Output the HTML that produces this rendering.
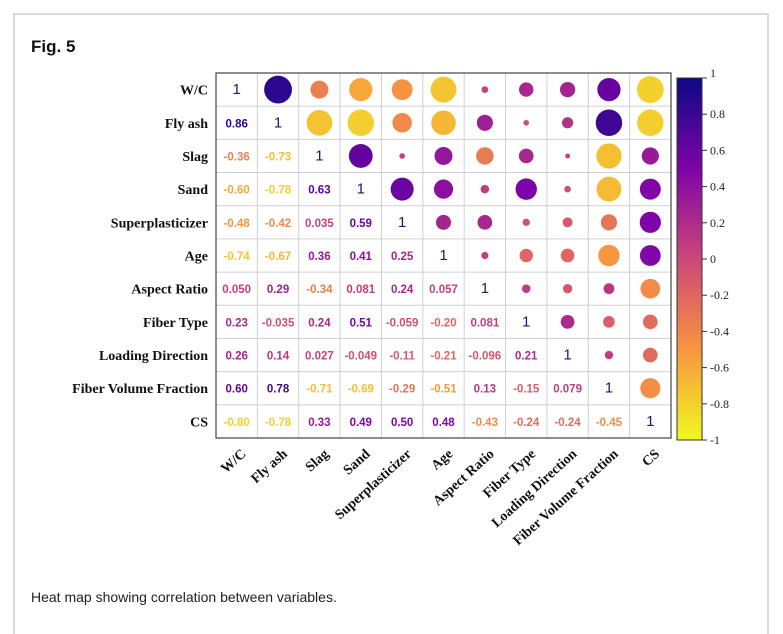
<!DOCTYPE html>
<html><head><meta charset="utf-8"><style>
html,body{margin:0;padding:0;background:#fff;width:783px;height:634px;overflow:hidden;}
body{position:relative;font-family:"Liberation Sans",sans-serif;}
#frame{position:absolute;left:13px;top:13px;width:756px;height:621px;border:2px solid #d9d9d9;border-bottom:none;box-sizing:border-box;}
#title{position:absolute;left:31px;top:37px;font-weight:bold;font-size:17px;color:#111;}
#caption{position:absolute;left:31px;top:589px;font-size:14px;color:#222;}
svg{position:absolute;left:0;top:0;}
</style></head><body>
<div id="frame"></div>
<div id="title">Fig. 5</div>
<svg id="chart" width="783" height="634"></svg>
<div id="caption">Heat map showing correlation between variables.</div>
<script>
const variables=["W/C","Fly ash","Slag","Sand","Superplasticizer","Age","Aspect Ratio","Fiber Type","Loading Direction","Fiber Volume Fraction","CS"];
const lowerValues=[
[],
[0.86],
[-0.36,-0.73],
[-0.60,-0.78,0.63],
[-0.48,-0.42,0.035,0.59],
[-0.74,-0.67,0.36,0.41,0.25],
[0.050,0.29,-0.34,0.081,0.24,0.057],
[0.23,-0.035,0.24,0.51,-0.059,-0.20,0.081],
[0.26,0.14,0.027,-0.049,-0.11,-0.21,-0.096,0.21],
[0.60,0.78,-0.71,-0.69,-0.29,-0.51,0.13,-0.15,0.079],
[-0.80,-0.78,0.33,0.49,0.50,0.48,-0.43,-0.24,-0.24,-0.45]
];
const lowerLabels=[
[],
["0.86"],
["-0.36","-0.73"],
["-0.60","-0.78","0.63"],
["-0.48","-0.42","0.035","0.59"],
["-0.74","-0.67","0.36","0.41","0.25"],
["0.050","0.29","-0.34","0.081","0.24","0.057"],
["0.23","-0.035","0.24","0.51","-0.059","-0.20","0.081"],
["0.26","0.14","0.027","-0.049","-0.11","-0.21","-0.096","0.21"],
["0.60","0.78","-0.71","-0.69","-0.29","-0.51","0.13","-0.15","0.079"],
["-0.80","-0.78","0.33","0.49","0.50","0.48","-0.43","-0.24","-0.24","-0.45"]
];
const colorbarTicks=[1,0.8,0.6,0.4,0.2,0,-0.2,-0.4,-0.6,-0.8,-1];
const colorbarTickLabels=["1","0.8","0.6","0.4","0.2","0","-0.2","-0.4","-0.6","-0.8","-1"];

const NS="http://www.w3.org/2000/svg";
const svg=document.getElementById('chart');
const gx0=216,gx1=671,gy0=73,gy1=438;
const n=variables.length;
const cw=(gx1-gx0)/n,ch=(gy1-gy0)/n;
const xC=i=>gx0+cw*(i+0.5);
const yC=i=>gy0+ch*(i+0.5);
const stops=[[13,8,135],[126,3,168],[204,71,120],[248,149,64],[240,249,33]];
function color(r){let t=(1-r)/2;t=Math.max(0,Math.min(1,t));const s=t*4;const k=Math.min(3,Math.floor(s));const f=s-k;const a=stops[k],b=stops[k+1];
return `rgb(${Math.round(a[0]+(b[0]-a[0])*f)},${Math.round(a[1]+(b[1]-a[1])*f)},${Math.round(a[2]+(b[2]-a[2])*f)})`;}
function mk(tag,attrs){const e=document.createElementNS(NS,tag);for(const k in attrs)e.setAttribute(k,attrs[k]);svg.appendChild(e);return e;}
function val(i,j){if(i===j)return 1;return i>j?lowerValues[i][j]:lowerValues[j][i];}

for(let k=0;k<=n;k++){
  const l1=mk('line',{x1:gx0+cw*k,x2:gx0+cw*k,y1:gy0,y2:gy1,stroke:'#d0d0d0','stroke-width':1});
  
  
  const l2=mk('line',{x1:gx0,x2:gx1,y1:gy0+ch*k,y2:gy0+ch*k,stroke:'#d0d0d0','stroke-width':1});
  
  
}
const border=mk('rect',{x:gx0,y:gy0,width:gx1-gx0,height:gy1-gy0,fill:'none',stroke:'#444','stroke-width':1.2});



for(let i=0;i<n;i++){
  for(let j=0;j<n;j++){
    const r=val(i,j);
    if(j<=i){
      const txt=i===j?"1":lowerLabels[i][j];
      const t=mk('text',{x:xC(j),y:yC(i)+4.5,'text-anchor':'middle','font-size':i===j?15:11.5,'font-weight':i===j?'normal':'bold','font-family':'Liberation Sans, sans-serif',fill:i===j?'#1a1a6e':color(r)});
      t.textContent=txt;
      
      
    } else {
      const c=mk('circle',{cx:xC(j),cy:yC(i),r:15*Math.sqrt(Math.abs(r)),fill:color(r)});
      
      
    }
  }
  const yl=mk('text',{x:gx0-8,y:yC(i)+5,'text-anchor':'end','font-size':14,'font-weight':'bold','font-family':'Liberation Serif, serif',fill:'#111'});
  yl.textContent=variables[i];
  
  
  const xl=mk('text',{x:0,y:0,'text-anchor':'end','font-size':14,'font-weight':'bold','font-family':'Liberation Serif, serif',fill:'#111',transform:`translate(${xC(i)+10},${gy1+17}) rotate(-42)`});
  xl.textContent=variables[i];
  
  
}

const cbx=677,cbw=25,cby0=78,cby1=440;
const defs=mk('defs',{});
const lg=document.createElementNS(NS,'linearGradient');
lg.setAttribute('id','cbg');lg.setAttribute('x1','0');lg.setAttribute('y1','0');lg.setAttribute('x2','0');lg.setAttribute('y2','1');
defs.appendChild(lg);
stops.forEach((s,k)=>{const st=document.createElementNS(NS,'stop');st.setAttribute('offset',k/4);st.setAttribute('stop-color',`rgb(${s.join(',')})`);lg.appendChild(st);});
const cb=mk('rect',{x:cbx,y:cby0,width:cbw,height:cby1-cby0,fill:'url(#cbg)',stroke:'#333','stroke-width':1});


const cbY=v=>cby0+(1-v)/2*(cby1-cby0);
colorbarTicks.forEach((v,k)=>{
  const tl=mk('line',{x1:cbx+cbw,x2:cbx+cbw+5,y1:cbY(v),y2:cbY(v),stroke:'#333','stroke-width':1});
  
  
  const tt=mk('text',{x:cbx+cbw+8,y:cbY(v)+(k===0?-1:4),'font-size':12,'font-family':'Liberation Serif, serif',fill:'#222'});
  tt.textContent=colorbarTickLabels[k];
  
  
});
</script>
</body></html>
